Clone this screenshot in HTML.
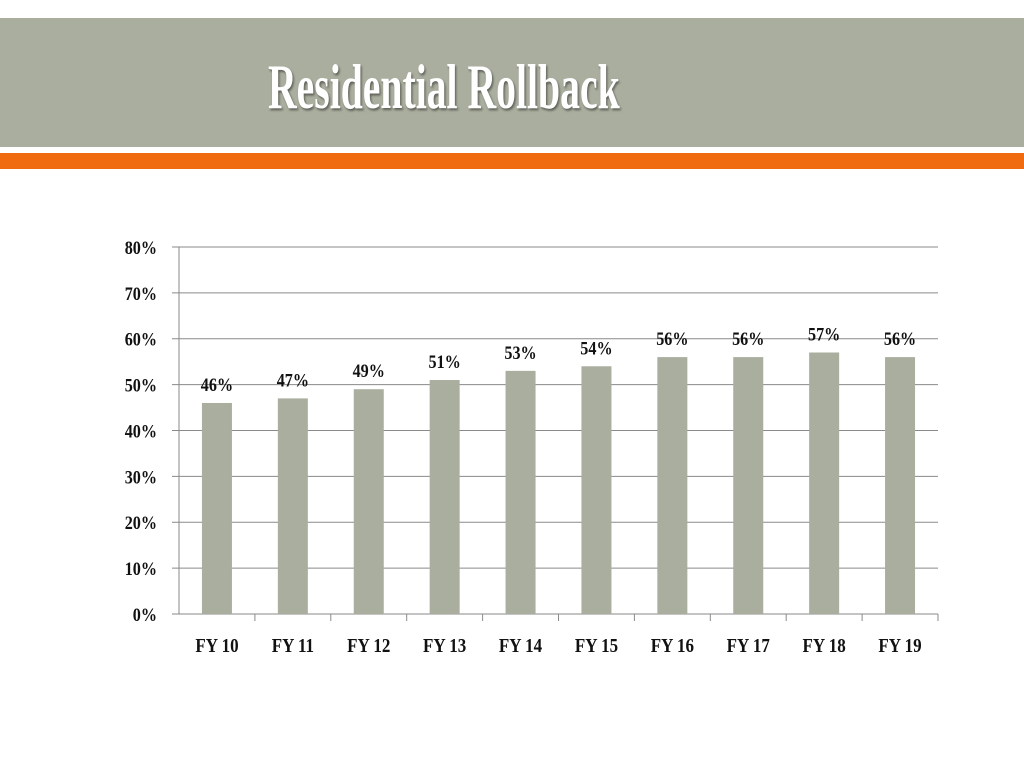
<!DOCTYPE html>
<html><head><meta charset="utf-8"><style>
body{margin:0;width:1024px;height:768px;background:#fff;overflow:hidden;font-family:"Liberation Serif",serif}
#hdr{position:absolute;left:0;top:18px;width:1024px;height:129px;background:#a9ae9e}
#org{position:absolute;left:0;top:153px;width:1024px;height:16px;background:#f06a0f}
#title{position:absolute;left:268px;top:50px;font-size:64px;font-weight:bold;color:#fff;transform:scaleX(0.62);transform-origin:0 0;white-space:nowrap;text-shadow:2px 2px 3px rgba(0,0,0,.45)}
svg text{font-family:"Liberation Serif",serif;font-weight:bold;fill:#111}
</style></head><body>
<div id="hdr"></div>
<div id="org"></div>
<div id="title">Residential Rollback</div>
<svg id="chart" width="1024" height="768" style="position:absolute;left:0;top:0"></svg>
<script>
const categories=["FY 10","FY 11","FY 12","FY 13","FY 14","FY 15","FY 16","FY 17","FY 18","FY 19"];
const values=[46,47,49,51,53,54,56,56,57,56];
const yTicks=[0,10,20,30,40,50,60,70,80];
const NS="http://www.w3.org/2000/svg";
const svg=document.getElementById('chart');
const x0=179,x1=938,yTop=247,yBot=614,yMax=80;
const bw=(x1-x0)/categories.length;
const y=v=>yBot-(v/yMax)*(yBot-yTop);
function mk(t,a,txt){const e=document.createElementNS(NS,t);for(const k in a)e.setAttribute(k,a[k]);if(txt!=null)e.textContent=txt;svg.appendChild(e);return e;}
yTicks.forEach(t=>{
 const l=mk('line',{x1:x0-7,x2:x1,y1:y(t),y2:y(t),stroke:'#8a8a8a','stroke-width':1});
 
 
 const tx=mk('text',{x:157,y:y(t)+7,'text-anchor':'end','font-size':19,transform:`translate(157 0) scale(0.85 1) translate(-157 0)`},t+'%');
 
 
});
mk('line',{x1:x0,x2:x0,y1:yTop,y2:yBot,stroke:'#8a8a8a'});
categories.forEach((c,i)=>{
 const cx=x0+bw*(i+0.5);
 const tk=mk('line',{x1:x0+bw*(i+1),x2:x0+bw*(i+1),y1:yBot,y2:yBot+7,stroke:'#8a8a8a'});
 
 
 const b=mk('rect',{x:cx-15,y:y(values[i]),width:30,height:yBot-y(values[i]),fill:'#a9ae9e'});
 
 
 const lb=mk('text',{x:cx,y:y(values[i])-12-(i%2?0:0),'text-anchor':'middle','font-size':19,transform:`translate(${cx} 0) scale(0.85 1) translate(${-cx} 0)`},values[i]+'%');
 
 
 const xl=mk('text',{x:cx,y:652,'text-anchor':'middle','font-size':20,transform:`translate(${cx} 0) scale(0.85 1) translate(${-cx} 0)`},c);
 
 
});
</script>
</body></html>
